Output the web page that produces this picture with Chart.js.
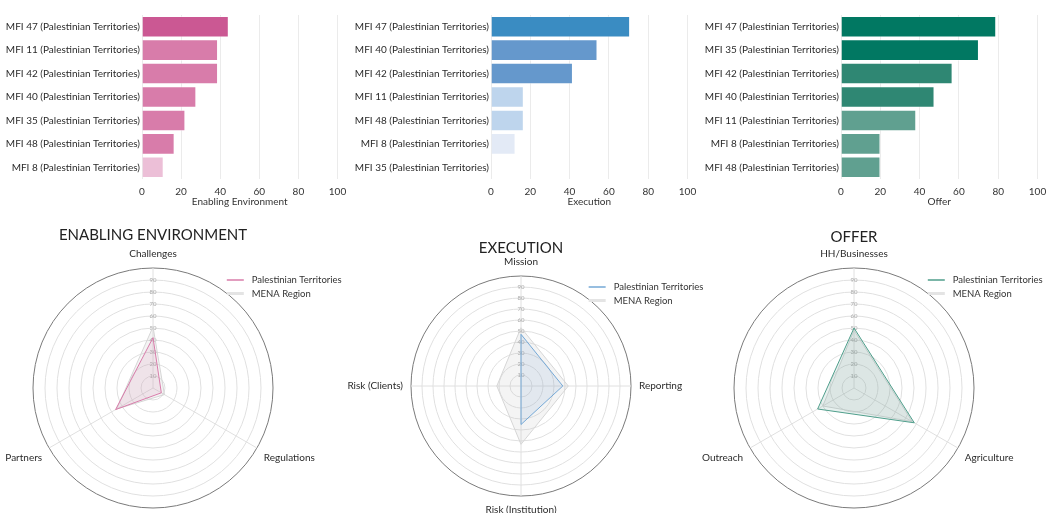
<!DOCTYPE html>
<html>
<head>
<meta charset="utf-8">
<script src="https://cdn.jsdelivr.net/npm/chart.js@4.4.1/dist/chart.umd.min.js"></script>
<style>
  html, body { margin: 0; padding: 0; background: #fff; }
  body { width: 1049px; height: 513px; position: relative; overflow: hidden; }
  .box { position: absolute; }
</style>
</head>
<body>
<div class="box" style="left:0;top:0;width:350px;height:215px"><canvas id="barEE"></canvas></div>
<div class="box" style="left:350px;top:0;width:350px;height:215px"><canvas id="barEX"></canvas></div>
<div class="box" style="left:700px;top:0;width:350px;height:215px"><canvas id="barOF"></canvas></div>

<div class="box" style="left:-47px;top:224px;width:400px;height:296px"><canvas id="radarEE"></canvas></div>
<div class="box" style="left:326px;top:237px;width:390px;height:279px"><canvas id="radarEX"></canvas></div>
<div class="box" style="left:659px;top:224px;width:390px;height:296px"><canvas id="radarOF"></canvas></div>

<script>
// data - bars (sorted as in the picture, top to bottom)
const eeLabels = ['MFI 47 (Palestinian Territories)', 'MFI 11 (Palestinian Territories)', 'MFI 42 (Palestinian Territories)',
  'MFI 40 (Palestinian Territories)', 'MFI 35 (Palestinian Territories)', 'MFI 48 (Palestinian Territories)', 'MFI 8 (Palestinian Territories)'];
const eeValues = [44.4, 38.9, 38.9, 27.8, 22.2, 16.7, 11.1];

const exLabels = ['MFI 47 (Palestinian Territories)', 'MFI 40 (Palestinian Territories)', 'MFI 42 (Palestinian Territories)',
  'MFI 11 (Palestinian Territories)', 'MFI 48 (Palestinian Territories)', 'MFI 8 (Palestinian Territories)', 'MFI 35 (Palestinian Territories)'];
const exValues = [70.8, 54.2, 41.7, 16.7, 16.7, 12.5, 0];

const ofLabels = ['MFI 47 (Palestinian Territories)', 'MFI 35 (Palestinian Territories)', 'MFI 42 (Palestinian Territories)',
  'MFI 40 (Palestinian Territories)', 'MFI 11 (Palestinian Territories)', 'MFI 8 (Palestinian Territories)', 'MFI 48 (Palestinian Territories)'];
const ofValues = [79, 70.2, 56.8, 47.6, 38.3, 20.1, 20.1];

const xTicks = [0, 20, 40, 60, 80, 100];

// data - radars
const eeAxes = ['Challenges', 'Regulations', 'Partners'];
const eePal = [42, 8, 36];
const eeMena = [51, 11, 35];

const exAxes = ['Mission', 'Reporting', 'Risk (Institution)', 'Risk (Clients)'];
const exPal = [47, 38, 35, 0];
const exMena = [53, 43, 53, 22];

const ofAxes = ['HH/Businesses', 'Agriculture', 'Outreach'];
const ofPal = [50, 58, 35];
const ofMena = [48, 56, 30];

const radialTicks = [10, 20, 30, 40, 50, 60, 70, 80, 90];

// colours
const pink = ['#cb5893', '#d87caa', '#ecbfd7'];
const blue = ['#3a8cc2', '#6598cc', '#bed5ed', '#e3eaf6'];
const green = ['#017862', '#2f8773', '#60a090'];

Chart.defaults.font.family = 'Lato';
Chart.defaults.color = '#333';

function barChart(id, labels, values, colors, title, yWidth) {
  return new Chart(document.getElementById(id), {
    type: 'bar',
    data: {
      labels: labels,
      datasets: [{
        data: values,
        backgroundColor: colors,
        borderColor: 'rgba(255,255,255,0.45)',
        borderWidth: 1,
        barPercentage: 0.92,
        categoryPercentage: 1
      }]
    },
    options: {
      indexAxis: 'y',
      responsive: true,
      maintainAspectRatio: false,
      animation: false,
      layout: { padding: { top: 15, right: 12.5, bottom: 8, left: 0 } },
      plugins: { legend: { display: false }, tooltip: { enabled: false } },
      scales: {
        x: {
          min: 0, max: 100,
          afterBuildTicks(s) { s.ticks = xTicks.map(v => ({ value: v })); },
          ticks: { padding: 8, color: '#333', font: { size: 10, lineHeight: 1 } },
          grid: { color: '#ebebeb', drawTicks: false },
          border: { display: false },
          title: { display: true, text: title, color: '#333', font: { size: 10, lineHeight: 1 }, padding: { top: -8, bottom: 0 } },
          afterFit(s) { s.paddingLeft = 0; s.paddingRight = 0; }
        },
        y: {
          ticks: { padding: 2, color: '#2b2b2b', font: { size: 10 } },
          grid: { display: false, drawTicks: false },
          border: { display: false },
          afterFit(s) { s.width = yWidth; s.paddingTop = 0; s.paddingBottom = 0; }
        }
      }
    }
  });
}

barChart('barEE', eeLabels, eeValues, [pink[0], pink[1], pink[1], pink[1], pink[1], pink[1], pink[2]], 'Enabling Environment', 142);
barChart('barEX', exLabels, exValues, [blue[0], blue[1], blue[1], blue[2], blue[2], blue[3], blue[3]], 'Execution', 141);
barChart('barOF', ofLabels, ofValues, [green[0], green[0], green[1], green[1], green[2], green[2], green[2]], 'Offer', 141);

// legend drawn in the upper right corner of the polar area
const cornerLegend = {
  id: 'cornerLegend',
  afterDraw(chart) {
    const r = chart.scales.r;
    const ctx = chart.ctx;
    const x0 = r.xCenter + r.drawingArea * 0.615;
    let y = r.yCenter - r.drawingArea * 0.9;
    ctx.save();
    ctx.font = '9.5px Lato';
    ctx.textBaseline = 'middle';
    chart.data.datasets.forEach((ds, i) => {
      ctx.strokeStyle = i === 0 ? ds.borderColor : '#e4e4e4';
      ctx.lineWidth = i === 0 ? 1.5 : 3;
      ctx.beginPath();
      ctx.moveTo(x0, y);
      ctx.lineTo(x0 + 17, y);
      ctx.stroke();
      ctx.fillStyle = '#333';
      ctx.fillText(ds.label, x0 + 25, y);
      y += 13.5;
    });
    ctx.restore();
  }
};

function radarChart(id, title, axes, pal, mena, line, fill, titlePad) {
  return new Chart(document.getElementById(id), {
    type: 'radar',
    plugins: [cornerLegend],
    data: {
      labels: axes,
      datasets: [
        { label: 'Palestinian Territories', data: pal, borderColor: line, backgroundColor: fill, borderWidth: 1, pointRadius: 0, fill: true },
        { label: 'MENA Region', data: mena, borderColor: '#d6d6d6', backgroundColor: 'rgba(185,185,185,0.16)', borderWidth: 1, pointRadius: 0, fill: true }
      ]
    },
    options: {
      responsive: true,
      maintainAspectRatio: false,
      animation: false,
      plugins: {
        legend: { display: false },
        tooltip: { enabled: false },
        title: { display: true, text: title, color: '#222', font: { size: 15, weight: 'normal' }, padding: titlePad }
      },
      scales: {
        r: {
          min: 0, max: 100,
          afterBuildTicks(s) { s.ticks = [0].concat(radialTicks, [100]).map(v => ({ value: v })); },
          ticks: {
            showLabelBackdrop: false, backdropPadding: 0, color: '#aaa', font: { size: 6 },
            callback: v => (v === 100 ? '' : v)
          },
          grid: { circular: true, color: c => (c.tick && c.tick.value === 100 ? '#7a7a7a' : '#e0e0e0') },
          angleLines: { color: '#e0e0e0' },
          pointLabels: { color: '#2b2b2b', font: { size: 10 }, padding: 5 }
        }
      }
    }
  });
}

radarChart('radarEE', 'ENABLING ENVIRONMENT', eeAxes, eePal, eeMena, '#d87caa', 'rgba(216,124,170,0.14)', { top: 2, bottom: -4 });
radarChart('radarEX', 'EXECUTION', exAxes, exPal, exMena, '#74a8d6', 'rgba(101,152,204,0.12)', { top: 2, bottom: -1 });
radarChart('radarOF', 'OFFER', ofAxes, ofPal, ofMena, '#4f9e8b', 'rgba(47,135,115,0.12)', { top: 4, bottom: -6 });
</script>
</body>
</html>
